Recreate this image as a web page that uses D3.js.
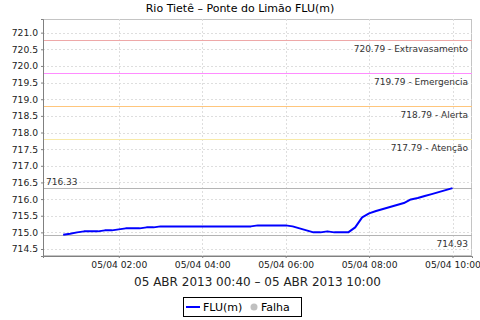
<!DOCTYPE html>
<html>
<head>
<meta charset="utf-8">
<script src="https://cdn.jsdelivr.net/npm/d3@7"></script>
<style>
  body { margin: 0; background: #fff; }
  text { font-family: "DejaVu Sans", sans-serif; }
</style>
</head>
<body>
<svg id="chart" width="480" height="320"></svg>
<script>
// leituras de 10 em 10 minutos, 05 ABR 2013
const times = [
  "00:40","00:50","01:00","01:10","01:20","01:30","01:40","01:50",
  "02:00","02:10","02:20","02:30","02:40","02:50",
  "03:00","03:10","03:20","03:30","03:40","03:50",
  "04:00","04:10","04:20","04:30","04:40","04:50",
  "05:00","05:10","05:20","05:30","05:40","05:50",
  "06:00","06:10","06:20","06:30","06:40","06:50",
  "07:00","07:10","07:20","07:30","07:40","07:50",
  "08:00","08:10","08:20","08:30","08:40","08:50",
  "09:00","09:10","09:20","09:30","09:40","09:50","10:00"
];
const levels = [
  714.93, 714.96, 715.00, 715.03, 715.03, 715.03, 715.06, 715.06,
  715.09, 715.12, 715.12, 715.12, 715.15, 715.15,
  715.18, 715.18, 715.18, 715.18, 715.18, 715.18,
  715.18, 715.18, 715.18, 715.18, 715.18, 715.18,
  715.18, 715.18, 715.21, 715.21, 715.21, 715.21,
  715.21, 715.18, 715.12, 715.06, 715.00, 715.00,
  715.03, 715.00, 715.00, 715.00, 715.15, 715.45,
  715.57, 715.64, 715.70, 715.76, 715.82, 715.88,
  715.99, 716.03, 716.09, 716.15, 716.21, 716.27, 716.33
];

const thresholdValues = [720.79, 719.79, 718.79, 717.79];
const thresholdNames = ["Extravasamento", "Emergencia", "Alerta", "Atenção"];
const thresholdColors = ["#eea8a8", "#ff8cff", "#ffc67c", "#f8eaa8"];

const yTicks = [714.5, 715.0, 715.5, 716.0, 716.5, 717.0, 717.5, 718.0,
                718.5, 719.0, 719.5, 720.0, 720.5, 721.0];
const xTickHours = ["02:00", "04:00", "06:00", "08:00", "10:00"];

const title = "Rio Tietê – Ponte do Limão FLU(m)";
const xLabel = "05 ABR 2013 00:40 – 05 ABR 2013 10:00";

const parseTime = d3.timeParse("%Y-%m-%d %H:%M");
const at = (hm) => parseTime("2013-04-05 " + hm);

const data = times.map((t, i) => ({ date: at(t), value: levels[i] }));
const maxVal = d3.max(levels);
const minVal = d3.min(levels);

const svg = d3.select("#chart");
const plot = { left: 43, right: 472, top: 19, bottom: 256 };

const x = d3.scaleTime()
  .domain([at("00:11"), at("10:28")])
  .range([plot.left, plot.right]);
const y = d3.scaleLinear()
  .domain([714.29, 721.41])
  .range([plot.bottom, plot.top]);

// Title
svg.append("text")
  .attr("x", 240)
  .attr("y", 12)
  .attr("text-anchor", "middle")
  .attr("font-size", 11)
  .attr("fill", "#000")
  .text(title);

// plot border
svg.append("rect")
  .attr("x", plot.left + 0.5)
  .attr("y", plot.top + 0.5)
  .attr("width", plot.right - plot.left - 1)
  .attr("height", plot.bottom - plot.top - 1)
  .attr("fill", "#fff")
  .attr("stroke", "#c4c4c4");

// Gridlines
const grid = svg.append("g")
  .attr("stroke", "#dedede")
  .attr("stroke-dasharray", "2,2");
grid.selectAll(".hgrid")
  .data(yTicks)
  .join("line")
  .attr("class", "hgrid")
  .attr("x1", plot.left)
  .attr("x2", plot.right)
  .attr("y1", d => Math.round(y(d)) + 0.5)
  .attr("y2", d => Math.round(y(d)) + 0.5);
grid.selectAll(".vgrid")
  .data(xTickHours)
  .join("line")
  .attr("class", "vgrid")
  .attr("x1", d => Math.round(x(at(d))) + 0.5)
  .attr("x2", d => Math.round(x(at(d))) + 0.5)
  .attr("y1", plot.top)
  .attr("y2", plot.bottom);

// Threshold markers
const markers = svg.append("g");
thresholdValues.forEach((v, i) => {
  const yy = Math.round(y(v)) + 0.5;
  markers.append("line")
    .attr("x1", plot.left)
    .attr("x2", plot.right)
    .attr("y1", yy)
    .attr("y2", yy)
    .attr("stroke", thresholdColors[i])
    .attr("stroke-width", 1);
  markers.append("text")
    .attr("x", plot.right - 4)
    .attr("y", yy + 11)
    .attr("text-anchor", "end")
    .attr("font-size", 9)
    .attr("fill", "#333")
    .text(`${v.toFixed(2)} - ${thresholdNames[i]}`);
});

// max / min markers
const yMax = Math.round(y(maxVal)) + 0.5;
const yMin = Math.round(y(minVal)) + 0.5;
markers.append("line")
  .attr("x1", plot.left).attr("x2", plot.right)
  .attr("y1", yMax).attr("y2", yMax)
  .attr("stroke", "#b4b4b4");
markers.append("text")
  .attr("x", plot.left + 3)
  .attr("y", yMax - 4)
  .attr("font-size", 9)
  .attr("fill", "#333")
  .text(maxVal.toFixed(2));
markers.append("line")
  .attr("x1", plot.left).attr("x2", plot.right)
  .attr("y1", yMin).attr("y2", yMin)
  .attr("stroke", "#b4b4b4");
markers.append("text")
  .attr("x", plot.right - 4)
  .attr("y", yMin + 11)
  .attr("text-anchor", "end")
  .attr("font-size", 9)
  .attr("fill", "#333")
  .text(minVal.toFixed(2));

// Series line
const line = d3.line()
  .x(d => x(d.date))
  .y(d => y(d.value));
svg.append("path")
  .datum(data)
  .attr("fill", "none")
  .attr("stroke", "#0000ff")
  .attr("stroke-width", 2)
  .attr("stroke-linejoin", "round")
  .attr("d", line);

// Axes
const yAxis = svg.append("g")
  .attr("transform", `translate(${plot.left},0)`)
  .call(d3.axisLeft(y).tickValues(yTicks).tickFormat(d3.format(".1f")).tickSize(2).tickPadding(3));
const xAxis = svg.append("g")
  .attr("transform", `translate(0,${plot.bottom})`)
  .call(d3.axisBottom(x).tickValues(xTickHours.map(at))
    .tickFormat(d3.timeFormat("%d/%m %H:%M")).tickSize(2).tickPadding(3));

[yAxis, xAxis].forEach(g => {
  g.select(".domain").attr("stroke", "#808080").attr("stroke-width", 1);
  g.selectAll(".tick line").attr("stroke", "#808080");
  g.selectAll(".tick text")
    .attr("font-family", "DejaVu Sans, sans-serif")
    .attr("font-size", 9.2)
    .attr("fill", "#222");
});

// x axis label
svg.append("text")
  .attr("x", (plot.left + plot.right) / 2)
  .attr("y", 286)
  .attr("text-anchor", "middle")
  .attr("font-size", 12)
  .attr("fill", "#222")
  .text(xLabel);

// Legend
const legend = svg.append("g");
legend.append("rect")
  .attr("x", 183.5).attr("y", 297.5)
  .attr("width", 118).attr("height", 19)
  .attr("fill", "#fff")
  .attr("stroke", "#000");
legend.append("line")
  .attr("x1", 186).attr("x2", 200)
  .attr("y1", 307).attr("y2", 307)
  .attr("stroke", "#0000ff").attr("stroke-width", 2);
legend.append("text")
  .attr("x", 203).attr("y", 311)
  .attr("font-size", 11)
  .text("FLU(m)");
legend.append("circle")
  .attr("cx", 254).attr("cy", 307).attr("r", 3.5)
  .attr("fill", "#c0c0c0");
legend.append("text")
  .attr("x", 261).attr("y", 311)
  .attr("font-size", 11)
  .text("Falha");
</script>
</body>
</html>
